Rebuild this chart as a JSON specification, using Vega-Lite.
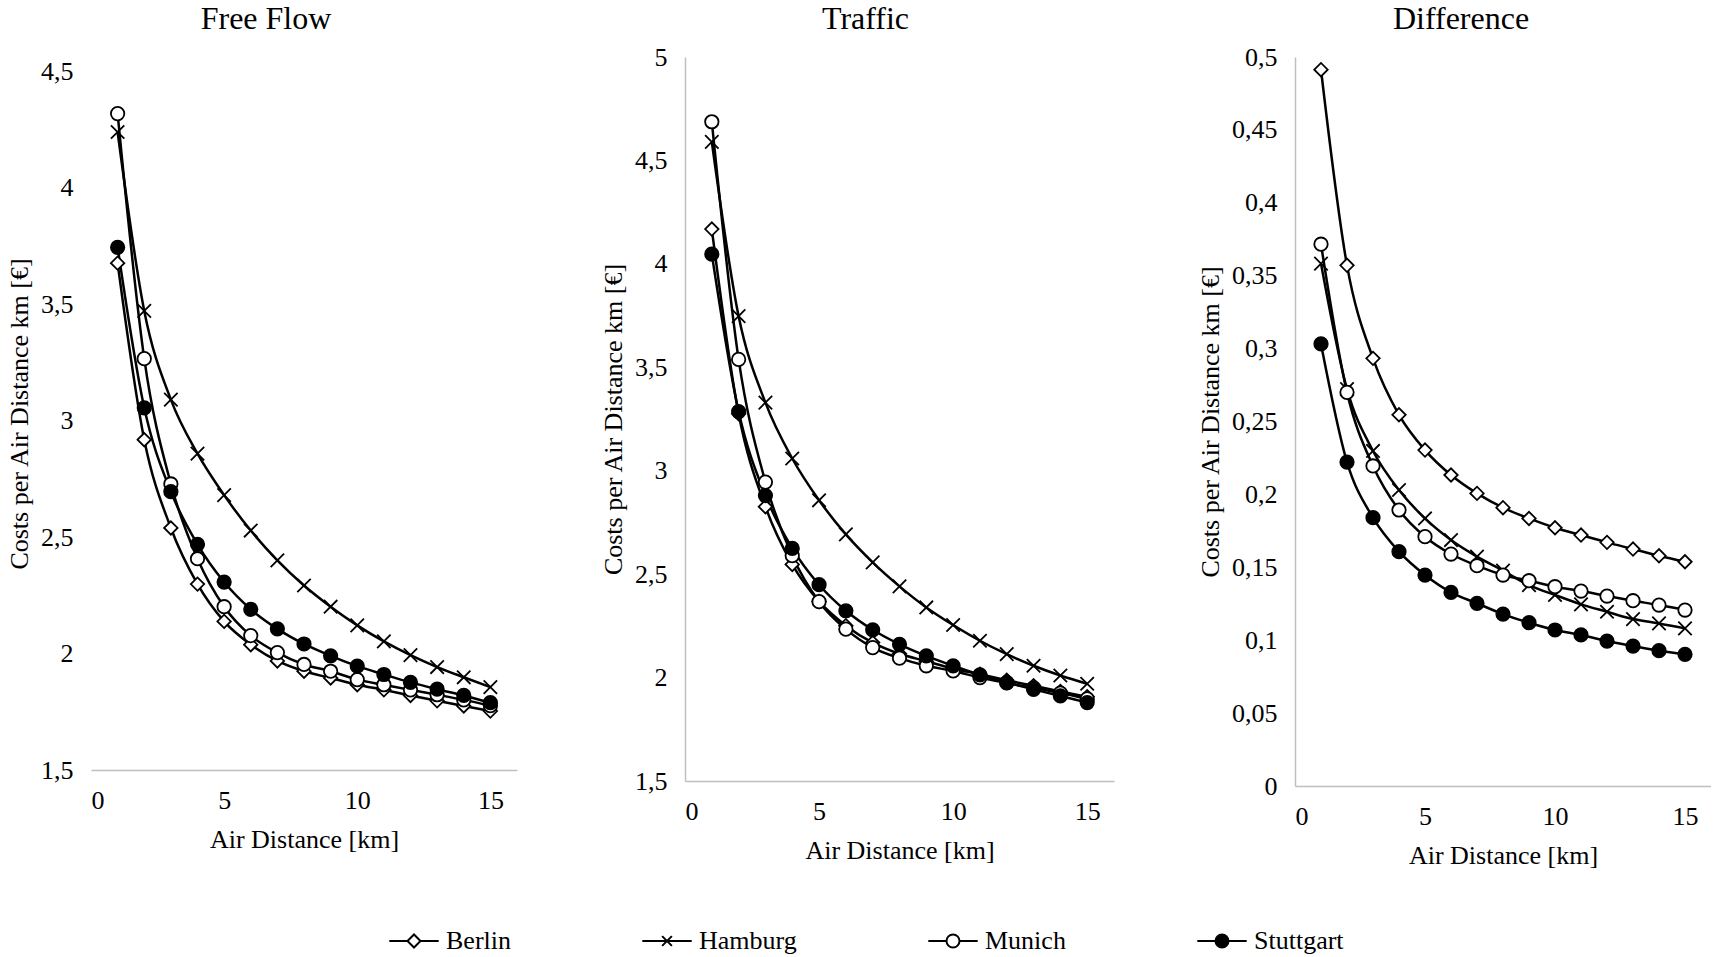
{
  "$schema": "https://vega.github.io/schema/vega-lite/v6.json",
  "background": "white",
  "padding": {"left": 6, "top": 3, "right": 0, "bottom": 0},
  "spacing": 83,
  "datasets": {
    "ff": [
      {"city": "Berlin", "x": 1, "y": 3.676}, {"city": "Berlin", "x": 2, "y": 2.918}, {"city": "Berlin", "x": 3, "y": 2.539}, {"city": "Berlin", "x": 4, "y": 2.298}, {"city": "Berlin", "x": 5, "y": 2.138}, {"city": "Berlin", "x": 6, "y": 2.038}, {"city": "Berlin", "x": 7, "y": 1.968}, {"city": "Berlin", "x": 8, "y": 1.924}, {"city": "Berlin", "x": 9, "y": 1.895}, {"city": "Berlin", "x": 10, "y": 1.866}, {"city": "Berlin", "x": 11, "y": 1.844}, {"city": "Berlin", "x": 12, "y": 1.82}, {"city": "Berlin", "x": 13, "y": 1.797}, {"city": "Berlin", "x": 14, "y": 1.775}, {"city": "Berlin", "x": 15, "y": 1.753},
      {"city": "Hamburg", "x": 1, "y": 4.239}, {"city": "Hamburg", "x": 2, "y": 3.471}, {"city": "Hamburg", "x": 3, "y": 3.09}, {"city": "Hamburg", "x": 4, "y": 2.858}, {"city": "Hamburg", "x": 5, "y": 2.68}, {"city": "Hamburg", "x": 6, "y": 2.528}, {"city": "Hamburg", "x": 7, "y": 2.4}, {"city": "Hamburg", "x": 8, "y": 2.292}, {"city": "Hamburg", "x": 9, "y": 2.201}, {"city": "Hamburg", "x": 10, "y": 2.121}, {"city": "Hamburg", "x": 11, "y": 2.052}, {"city": "Hamburg", "x": 12, "y": 1.993}, {"city": "Hamburg", "x": 13, "y": 1.942}, {"city": "Hamburg", "x": 14, "y": 1.898}, {"city": "Hamburg", "x": 15, "y": 1.856},
      {"city": "Munich", "x": 1, "y": 4.318}, {"city": "Munich", "x": 2, "y": 3.266}, {"city": "Munich", "x": 3, "y": 2.728}, {"city": "Munich", "x": 4, "y": 2.407}, {"city": "Munich", "x": 5, "y": 2.201}, {"city": "Munich", "x": 6, "y": 2.077}, {"city": "Munich", "x": 7, "y": 2.004}, {"city": "Munich", "x": 8, "y": 1.953}, {"city": "Munich", "x": 9, "y": 1.924}, {"city": "Munich", "x": 10, "y": 1.888}, {"city": "Munich", "x": 11, "y": 1.866}, {"city": "Munich", "x": 12, "y": 1.844}, {"city": "Munich", "x": 13, "y": 1.823}, {"city": "Munich", "x": 14, "y": 1.801}, {"city": "Munich", "x": 15, "y": 1.776},
      {"city": "Stuttgart", "x": 1, "y": 3.744}, {"city": "Stuttgart", "x": 2, "y": 3.055}, {"city": "Stuttgart", "x": 3, "y": 2.695}, {"city": "Stuttgart", "x": 4, "y": 2.469}, {"city": "Stuttgart", "x": 5, "y": 2.307}, {"city": "Stuttgart", "x": 6, "y": 2.19}, {"city": "Stuttgart", "x": 7, "y": 2.106}, {"city": "Stuttgart", "x": 8, "y": 2.041}, {"city": "Stuttgart", "x": 9, "y": 1.99}, {"city": "Stuttgart", "x": 10, "y": 1.946}, {"city": "Stuttgart", "x": 11, "y": 1.91}, {"city": "Stuttgart", "x": 12, "y": 1.876}, {"city": "Stuttgart", "x": 13, "y": 1.847}, {"city": "Stuttgart", "x": 14, "y": 1.82}, {"city": "Stuttgart", "x": 15, "y": 1.789}
    ],
    "traffic": [
      {"city": "Berlin", "x": 1, "y": 4.168}, {"city": "Berlin", "x": 2, "y": 3.275}, {"city": "Berlin", "x": 3, "y": 2.826}, {"city": "Berlin", "x": 4, "y": 2.547}, {"city": "Berlin", "x": 5, "y": 2.368}, {"city": "Berlin", "x": 6, "y": 2.251}, {"city": "Berlin", "x": 7, "y": 2.169}, {"city": "Berlin", "x": 8, "y": 2.115}, {"city": "Berlin", "x": 9, "y": 2.079}, {"city": "Berlin", "x": 10, "y": 2.043}, {"city": "Berlin", "x": 11, "y": 2.016}, {"city": "Berlin", "x": 12, "y": 1.987}, {"city": "Berlin", "x": 13, "y": 1.96}, {"city": "Berlin", "x": 14, "y": 1.933}, {"city": "Berlin", "x": 15, "y": 1.907},
      {"city": "Hamburg", "x": 1, "y": 4.59}, {"city": "Hamburg", "x": 2, "y": 3.747}, {"city": "Hamburg", "x": 3, "y": 3.329}, {"city": "Hamburg", "x": 4, "y": 3.059}, {"city": "Hamburg", "x": 5, "y": 2.857}, {"city": "Hamburg", "x": 6, "y": 2.692}, {"city": "Hamburg", "x": 7, "y": 2.557}, {"city": "Hamburg", "x": 8, "y": 2.441}, {"city": "Hamburg", "x": 9, "y": 2.339}, {"city": "Hamburg", "x": 10, "y": 2.254}, {"city": "Hamburg", "x": 11, "y": 2.178}, {"city": "Hamburg", "x": 12, "y": 2.113}, {"city": "Hamburg", "x": 13, "y": 2.057}, {"city": "Hamburg", "x": 14, "y": 2.01}, {"city": "Hamburg", "x": 15, "y": 1.97},
      {"city": "Munich", "x": 1, "y": 4.687}, {"city": "Munich", "x": 2, "y": 3.538}, {"city": "Munich", "x": 3, "y": 2.945}, {"city": "Munich", "x": 4, "y": 2.589}, {"city": "Munich", "x": 5, "y": 2.367}, {"city": "Munich", "x": 6, "y": 2.234}, {"city": "Munich", "x": 7, "y": 2.145}, {"city": "Munich", "x": 8, "y": 2.094}, {"city": "Munich", "x": 9, "y": 2.057}, {"city": "Munich", "x": 10, "y": 2.032}, {"city": "Munich", "x": 11, "y": 2.0}, {"city": "Munich", "x": 12, "y": 1.974}, {"city": "Munich", "x": 13, "y": 1.95}, {"city": "Munich", "x": 14, "y": 1.925}, {"city": "Munich", "x": 15, "y": 1.897},
      {"city": "Stuttgart", "x": 1, "y": 4.047}, {"city": "Stuttgart", "x": 2, "y": 3.286}, {"city": "Stuttgart", "x": 3, "y": 2.88}, {"city": "Stuttgart", "x": 4, "y": 2.625}, {"city": "Stuttgart", "x": 5, "y": 2.449}, {"city": "Stuttgart", "x": 6, "y": 2.323}, {"city": "Stuttgart", "x": 7, "y": 2.231}, {"city": "Stuttgart", "x": 8, "y": 2.161}, {"city": "Stuttgart", "x": 9, "y": 2.105}, {"city": "Stuttgart", "x": 10, "y": 2.057}, {"city": "Stuttgart", "x": 11, "y": 2.013}, {"city": "Stuttgart", "x": 12, "y": 1.976}, {"city": "Stuttgart", "x": 13, "y": 1.943}, {"city": "Stuttgart", "x": 14, "y": 1.911}, {"city": "Stuttgart", "x": 15, "y": 1.879}
    ],
    "diff": [
      {"city": "Berlin", "x": 1, "y": 0.4913}, {"city": "Berlin", "x": 2, "y": 0.3571}, {"city": "Berlin", "x": 3, "y": 0.2933}, {"city": "Berlin", "x": 4, "y": 0.2546}, {"city": "Berlin", "x": 5, "y": 0.2304}, {"city": "Berlin", "x": 6, "y": 0.2133}, {"city": "Berlin", "x": 7, "y": 0.2007}, {"city": "Berlin", "x": 8, "y": 0.1909}, {"city": "Berlin", "x": 9, "y": 0.1835}, {"city": "Berlin", "x": 10, "y": 0.1771}, {"city": "Berlin", "x": 11, "y": 0.1721}, {"city": "Berlin", "x": 12, "y": 0.1671}, {"city": "Berlin", "x": 13, "y": 0.1625}, {"city": "Berlin", "x": 14, "y": 0.1579}, {"city": "Berlin", "x": 15, "y": 0.1538},
      {"city": "Hamburg", "x": 1, "y": 0.3583}, {"city": "Hamburg", "x": 2, "y": 0.2722}, {"city": "Hamburg", "x": 3, "y": 0.2298}, {"city": "Hamburg", "x": 4, "y": 0.203}, {"city": "Hamburg", "x": 5, "y": 0.1835}, {"city": "Hamburg", "x": 6, "y": 0.1687}, {"city": "Hamburg", "x": 7, "y": 0.1573}, {"city": "Hamburg", "x": 8, "y": 0.1477}, {"city": "Hamburg", "x": 9, "y": 0.1378}, {"city": "Hamburg", "x": 10, "y": 0.131}, {"city": "Hamburg", "x": 11, "y": 0.1246}, {"city": "Hamburg", "x": 12, "y": 0.1195}, {"city": "Hamburg", "x": 13, "y": 0.1145}, {"city": "Hamburg", "x": 14, "y": 0.1115}, {"city": "Hamburg", "x": 15, "y": 0.1081},
      {"city": "Munich", "x": 1, "y": 0.3716}, {"city": "Munich", "x": 2, "y": 0.27}, {"city": "Munich", "x": 3, "y": 0.2195}, {"city": "Munich", "x": 4, "y": 0.1893}, {"city": "Munich", "x": 5, "y": 0.171}, {"city": "Munich", "x": 6, "y": 0.1591}, {"city": "Munich", "x": 7, "y": 0.1511}, {"city": "Munich", "x": 8, "y": 0.1447}, {"city": "Munich", "x": 9, "y": 0.1408}, {"city": "Munich", "x": 10, "y": 0.1367}, {"city": "Munich", "x": 11, "y": 0.1337}, {"city": "Munich", "x": 12, "y": 0.1303}, {"city": "Munich", "x": 13, "y": 0.1271}, {"city": "Munich", "x": 14, "y": 0.1241}, {"city": "Munich", "x": 15, "y": 0.1207},
      {"city": "Stuttgart", "x": 1, "y": 0.3032}, {"city": "Stuttgart", "x": 2, "y": 0.2222}, {"city": "Stuttgart", "x": 3, "y": 0.184}, {"city": "Stuttgart", "x": 4, "y": 0.1607}, {"city": "Stuttgart", "x": 5, "y": 0.1447}, {"city": "Stuttgart", "x": 6, "y": 0.1328}, {"city": "Stuttgart", "x": 7, "y": 0.1253}, {"city": "Stuttgart", "x": 8, "y": 0.1179}, {"city": "Stuttgart", "x": 9, "y": 0.112}, {"city": "Stuttgart", "x": 10, "y": 0.107}, {"city": "Stuttgart", "x": 11, "y": 0.1036}, {"city": "Stuttgart", "x": 12, "y": 0.0994}, {"city": "Stuttgart", "x": 13, "y": 0.096}, {"city": "Stuttgart", "x": 14, "y": 0.0928}, {"city": "Stuttgart", "x": 15, "y": 0.0903}
    ]
  },
  "config": {
    "view": {"stroke": null},
    "font": "Liberation Serif",
    "style": {"guide-label": {"font": "Liberation Serif", "fill": "#000"}, "guide-title": {"font": "Liberation Serif", "fill": "#000"}},
    "axis": {"domainColor": "#bfbfbf", "domainWidth": 1.5, "ticks": false, "grid": false, "labelFont": "Liberation Serif", "labelFontSize": 26, "labelColor": "#000", "titleFont": "Liberation Serif", "titleFontSize": 26, "titleFontWeight": "normal", "titleColor": "#000"},
    "axisX": {"labelPadding": 17, "titlePadding": 13},
    "axisY": {"labelPadding": 18, "titlePadding": 8},
    "title": {"font": "Liberation Serif", "fontSize": 32, "fontWeight": "normal", "color": "#000", "anchor": "middle", "frame": "group"},
    "legend": {"symbolStrokeColor": "black", "symbolStrokeWidth": 2, "symbolSize": 169, "symbolOpacity": 1, "labelFont": "Liberation Serif", "labelFontSize": 26, "labelColor": "#000"}
  },
  "hconcat": [
    {
      "width": 426, "height": 713,
      "title": {"text": "Free Flow", "dx": -38, "offset": 21},
      "data": {"name": "ff"},
      "encoding": {
        "x": {"field": "x", "type": "quantitative", "scale": {"domain": [0, 16], "nice": false}, "axis": {"values": [0, 5, 10, 15], "title": "Air Distance [km]"}},
        "y": {"field": "y", "type": "quantitative", "scale": {"domain": [1.5, 4.561], "nice": false, "zero": false}, "axis": {"values": [1.5, 2, 2.5, 3, 3.5, 4, 4.5], "title": "Costs per Air Distance km [€]", "domain": false, "labelExpr": "replace(toString(datum.value), '.', ',')"}}
      },
      "layer": [
        {"data": {"values": [{}]}, "mark": {"type": "rule", "color": "#bfbfbf", "strokeWidth": 1.5}, "encoding": {"x": {"datum": 0}, "y": {"datum": 1.5}, "y2": {"datum": 4.5}}},
        {"mark": {"type": "line", "interpolate": "monotone", "color": "black", "strokeWidth": 2.5}, "encoding": {"detail": {"field": "city", "type": "nominal"}}},
        {"mark": {"type": "point", "filled": true, "stroke": "black", "strokeWidth": 1.8, "size": 180, "opacity": 1},
         "encoding": {
           "shape": {"condition": [{"test": "datum.city === 'Berlin'", "value": "diamond"}, {"test": "datum.city === 'Hamburg'", "value": "M-1,-1L1,1M1,-1L-1,1"}], "value": "circle"},
           "fill": {"condition": [{"test": "datum.city === 'Stuttgart'", "value": "black"}, {"test": "datum.city === 'Hamburg'", "value": "transparent"}], "value": "white"}
         }},
        {"mark": {"type": "point", "filled": true, "strokeWidth": 2, "size": 169, "opacity": 0},
         "encoding": {
           "shape": {"field": "city", "type": "nominal", "scale": {"domain": ["Berlin", "Hamburg", "Munich", "Stuttgart"], "range": ["M-3.8,0L-1,0M1,0L3.8,0M-1,0L0,-1L1,0L0,1Z", "M-3.8,0L3.8,0M-0.75,-0.75L0.75,0.75M0.75,-0.75L-0.75,0.75", "M-3.8,0L-1,0M1,0L3.8,0M-1,0A1,1,0,1,1,1,0A1,1,0,1,1,-1,0Z", "M-3.8,0L-1,0M1,0L3.8,0M-1,0A1,1,0,1,1,1,0A1,1,0,1,1,-1,0Z"]},
             "legend": {"orient": "none", "legendX": 310, "legendY": 871, "direction": "horizontal", "title": null, "padding": 0, "labelOffset": 19, "columnPadding": 127, "symbolOpacity": 1, "symbolStrokeWidth": 2}},
           "fill": {"field": "city", "type": "nominal", "scale": {"domain": ["Berlin", "Hamburg", "Munich", "Stuttgart"], "range": ["white", "transparent", "white", "black"]},
             "legend": {"orient": "none", "legendX": 310, "legendY": 871, "direction": "horizontal", "title": null, "padding": 0, "labelOffset": 19, "columnPadding": 127, "symbolOpacity": 1, "symbolStrokeWidth": 2}},
           "stroke": {"field": "city", "type": "nominal", "scale": {"domain": ["Berlin", "Hamburg", "Munich", "Stuttgart"], "range": ["black", "black", "black", "black"]},
             "legend": {"orient": "none", "legendX": 310, "legendY": 871, "direction": "horizontal", "title": null, "padding": 0, "labelOffset": 19, "columnPadding": 127, "symbolOpacity": 1, "symbolStrokeWidth": 2}}
         }}
      ]
    },
    {
      "width": 429, "height": 724,
      "title": {"text": "Traffic", "dx": -34, "offset": 8},
      "data": {"name": "traffic"},
      "encoding": {
        "x": {"field": "x", "type": "quantitative", "scale": {"domain": [0, 16], "nice": false}, "axis": {"values": [0, 5, 10, 15], "title": "Air Distance [km]"}},
        "y": {"field": "y", "type": "quantitative", "scale": {"domain": [1.5, 5], "nice": false, "zero": false}, "axis": {"values": [1.5, 2, 2.5, 3, 3.5, 4, 4.5, 5], "title": "Costs per Air Distance km [€]", "labelExpr": "replace(toString(datum.value), '.', ',')"}}
      },
      "layer": [
        {"mark": {"type": "line", "interpolate": "monotone", "color": "black", "strokeWidth": 2.5}, "encoding": {"detail": {"field": "city", "type": "nominal"}}},
        {"mark": {"type": "point", "filled": true, "stroke": "black", "strokeWidth": 1.8, "size": 180, "opacity": 1},
         "encoding": {
           "shape": {"condition": [{"test": "datum.city === 'Berlin'", "value": "diamond"}, {"test": "datum.city === 'Hamburg'", "value": "M-1,-1L1,1M1,-1L-1,1"}], "value": "circle"},
           "fill": {"condition": [{"test": "datum.city === 'Stuttgart'", "value": "black"}, {"test": "datum.city === 'Hamburg'", "value": "transparent"}], "value": "white"}
         }}
      ]
    },
    {
      "width": 416, "height": 729,
      "title": {"text": "Difference", "dx": -42, "offset": 8},
      "data": {"name": "diff"},
      "encoding": {
        "x": {"field": "x", "type": "quantitative", "scale": {"domain": [0, 16], "nice": false}, "axis": {"values": [0, 5, 10, 15], "title": "Air Distance [km]"}},
        "y": {"field": "y", "type": "quantitative", "scale": {"domain": [0, 0.5], "nice": false}, "axis": {"values": [0, 0.05, 0.1, 0.15, 0.2, 0.25, 0.3, 0.35, 0.4, 0.45, 0.5], "title": "Costs per Air Distance km [€]", "labelExpr": "replace(toString(datum.value), '.', ',')"}}
      },
      "layer": [
        {"mark": {"type": "line", "interpolate": "monotone", "color": "black", "strokeWidth": 2.5}, "encoding": {"detail": {"field": "city", "type": "nominal"}}},
        {"mark": {"type": "point", "filled": true, "stroke": "black", "strokeWidth": 1.8, "size": 180, "opacity": 1},
         "encoding": {
           "shape": {"condition": [{"test": "datum.city === 'Berlin'", "value": "diamond"}, {"test": "datum.city === 'Hamburg'", "value": "M-1,-1L1,1M1,-1L-1,1"}], "value": "circle"},
           "fill": {"condition": [{"test": "datum.city === 'Stuttgart'", "value": "black"}, {"test": "datum.city === 'Hamburg'", "value": "transparent"}], "value": "white"}
         }}
      ]
    }
  ]
}
